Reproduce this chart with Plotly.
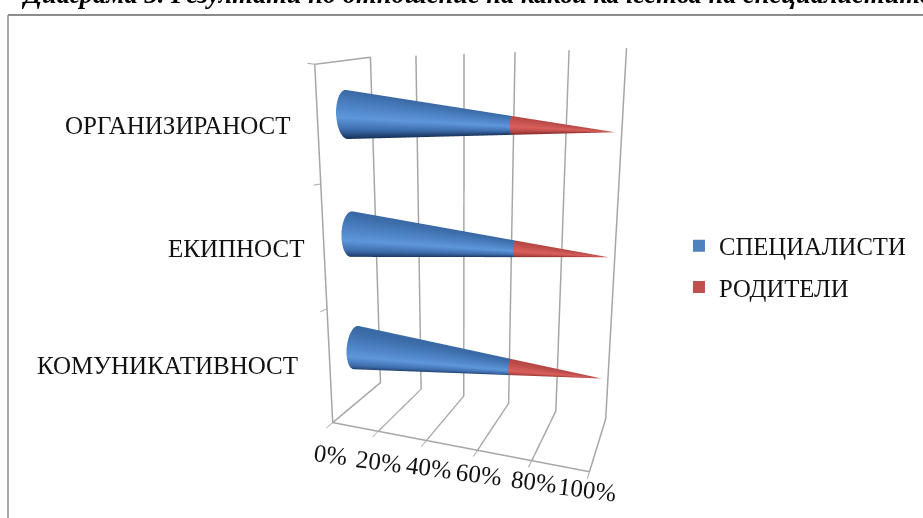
import numpy as np
import plotly.graph_objects as go

# Share of answers per quality, in percent
categories = ["КОМУНИКАТИВНОСТ", "ЕКИПНОСТ", "ОРГАНИЗИРАНОСТ"]
specialists = [66, 67, 65]
parents = [34, 33, 35]
x_ticks = [0, 20, 40, 60, 80, 100]
x_tick_labels = ["0%", "20%", "40%", "60%", "80%", "100%"]
title_text = "Диаграма 3. Резултати по отношение на какви качества на специалистите"
W, H = 923, 518

# Box proportions of the scene, needed to keep the cones round
ASPECT = dict(x=0.7347, y=0.2956, z=1.03)
CONE_RADIUS = 0.0667
CONE_DEPTH = 0.85
# Axis height of each cone at its base and at its tip (slight lean)
z_base = [0.513, 1.532, 2.519]
z_tip = [0.546, 1.500, 2.398]
# The near corner of the side wall stops a little below the back corner
WALL_FRONT_TOP = 2.88

BLUE = [[0, "#17325a"], [.2, "#3d6cab"], [.45, "#5f97dc"], [.75, "#4a7fc0"], [1, "#3a6aa5"]]
RED = [[0, "#7f2a28"], [.2, "#b84a48"], [.45, "#d9605c"], [1, "#b54744"]]
GRID = "#a6a6a6"
TEXT = "#111111"
FONT = "Liberation Serif"


def cone_section(i, start, end, name, colorscale):
    """One stretch of a cone that narrows to a point at 100%."""
    theta = np.linspace(0, 2 * np.pi, 73)
    xs = np.array([start, end], float)
    X, T = np.meshgrid(xs, theta)
    R = CONE_RADIUS * (1 - X / 100)
    axis = z_base[i] + (z_tip[i] - z_base[i]) * X / 100
    Y = 0.5 + CONE_DEPTH * R * np.cos(T) / ASPECT["y"]
    Z = axis + R * np.sin(T) / ASPECT["z"] * 3
    return go.Surface(
        x=X, y=Y, z=Z, surfacecolor=np.sin(T), cmin=-1, cmax=1,
        colorscale=colorscale, showscale=False, name=name, hoverinfo="skip",
        lighting=dict(ambient=1, diffuse=0, specular=0, fresnel=0, roughness=1),
    )


fig = go.Figure()
for i in range(len(categories)):
    fig.add_trace(cone_section(i, 0, specialists[i], "СПЕЦИАЛИСТИ", BLUE))
    fig.add_trace(cone_section(i, specialists[i], specialists[i] + parents[i], "РОДИТЕЛИ", RED))

# Edges of the chart walls
edges = [(0, 0, 0), (0, 0, WALL_FRONT_TOP), (0, 1, 3), (0, 1, 0), (0, 0, 0),
         (100, 0, 0), (100, 1, 0), (100, 1, 3)]
fig.add_trace(go.Scatter3d(
    x=[e[0] for e in edges], y=[e[1] for e in edges], z=[e[2] for e in edges],
    mode="lines", line=dict(color=GRID, width=3), showlegend=False, hoverinfo="skip",
))

# Legend entries
for name, color, group in [("СПЕЦИАЛИСТИ", "#4f81bd", "a"), ("РОДИТЕЛИ", "#c0504d", "b")]:
    fig.add_trace(go.Scatter3d(
        x=[None], y=[None], z=[None], mode="markers", name=name, legendgroup=group,
        marker=dict(symbol="square", size=11, color=color),
    ))

label_font = dict(family=FONT, size=25, color=TEXT)
cat_xshift = [-30, -18, -24]
cat_yshift = [1, -1, -8]
tick_xshift = [-2, 1, 3, 2, 2, -2]
tick_yshift = [-32, -30, -27, -24, -21, -18]
scene_labels = [
    dict(x=0, y=0, z=i + 0.5, text=c, showarrow=False, xanchor="right",
         xshift=cat_xshift[i], yshift=cat_yshift[i], font=label_font)
    for i, c in enumerate(categories)
]
scene_labels += [
    dict(x=v, y=0, z=0, text=t, showarrow=False, textangle=7,
         xshift=tick_xshift[k], yshift=tick_yshift[k], font=label_font)
    for k, (v, t) in enumerate(zip(x_ticks, x_tick_labels))
]

axis_common = dict(showbackground=False, showspikes=False, title="", showticklabels=False,
                   zeroline=False, showline=False)
fig.update_layout(
    width=W, height=H, margin=dict(l=0, r=0, t=0, b=0), paper_bgcolor="white",
    legend=dict(x=0.7356, y=0.569, yanchor="top", font=dict(family=FONT, size=24.7, color=TEXT),
                tracegroupgap=6, itemsizing="constant", bgcolor="rgba(0,0,0,0)"),
    scene=dict(
        domain=dict(x=[0, 1], y=[0, 1]),
        aspectmode="manual", aspectratio=ASPECT,
        camera=dict(eye=dict(x=0.5544, y=-1.5674, z=0.3467),
                    center=dict(x=-0.0206, y=-0.0155, z=-0.0322),
                    up=dict(x=0, y=0, z=1), projection=dict(type="perspective")),
        xaxis=dict(axis_common, range=[0, 100], tickvals=x_ticks, showgrid=True, gridcolor=GRID,
                   gridwidth=3, ticks="outside", ticklen=3, tickcolor=GRID, tickwidth=2),
        yaxis=dict(axis_common, range=[0, 1], tickvals=[], showgrid=False),
        zaxis=dict(axis_common, range=[0, 3], tickvals=[0, 1, 2, WALL_FRONT_TOP], showgrid=False,
                   ticks="outside", ticklen=4, tickcolor=GRID, tickwidth=2),
        annotations=scene_labels,
    ),
    shapes=[
        dict(type="line", xref="paper", yref="paper", x0=8 / W, x1=1, y0=1 - 15 / H, y1=1 - 15 / H,
             line=dict(color="#8c8c8c", width=2)),
        dict(type="line", xref="paper", yref="paper", x0=8 / W, x1=8 / W, y0=0, y1=1 - 15 / H,
             line=dict(color="#8c8c8c", width=1.5)),
    ],
    annotations=[
        dict(xref="paper", yref="paper", x=20 / W, y=1 - 11 / H, xanchor="left", yanchor="bottom",
             showarrow=False, text=f"<b><i>{title_text}</i></b>",
             font=dict(family=FONT, size=26.5, color="#000000")),
    ],
)
fig.write_html("out.html")
